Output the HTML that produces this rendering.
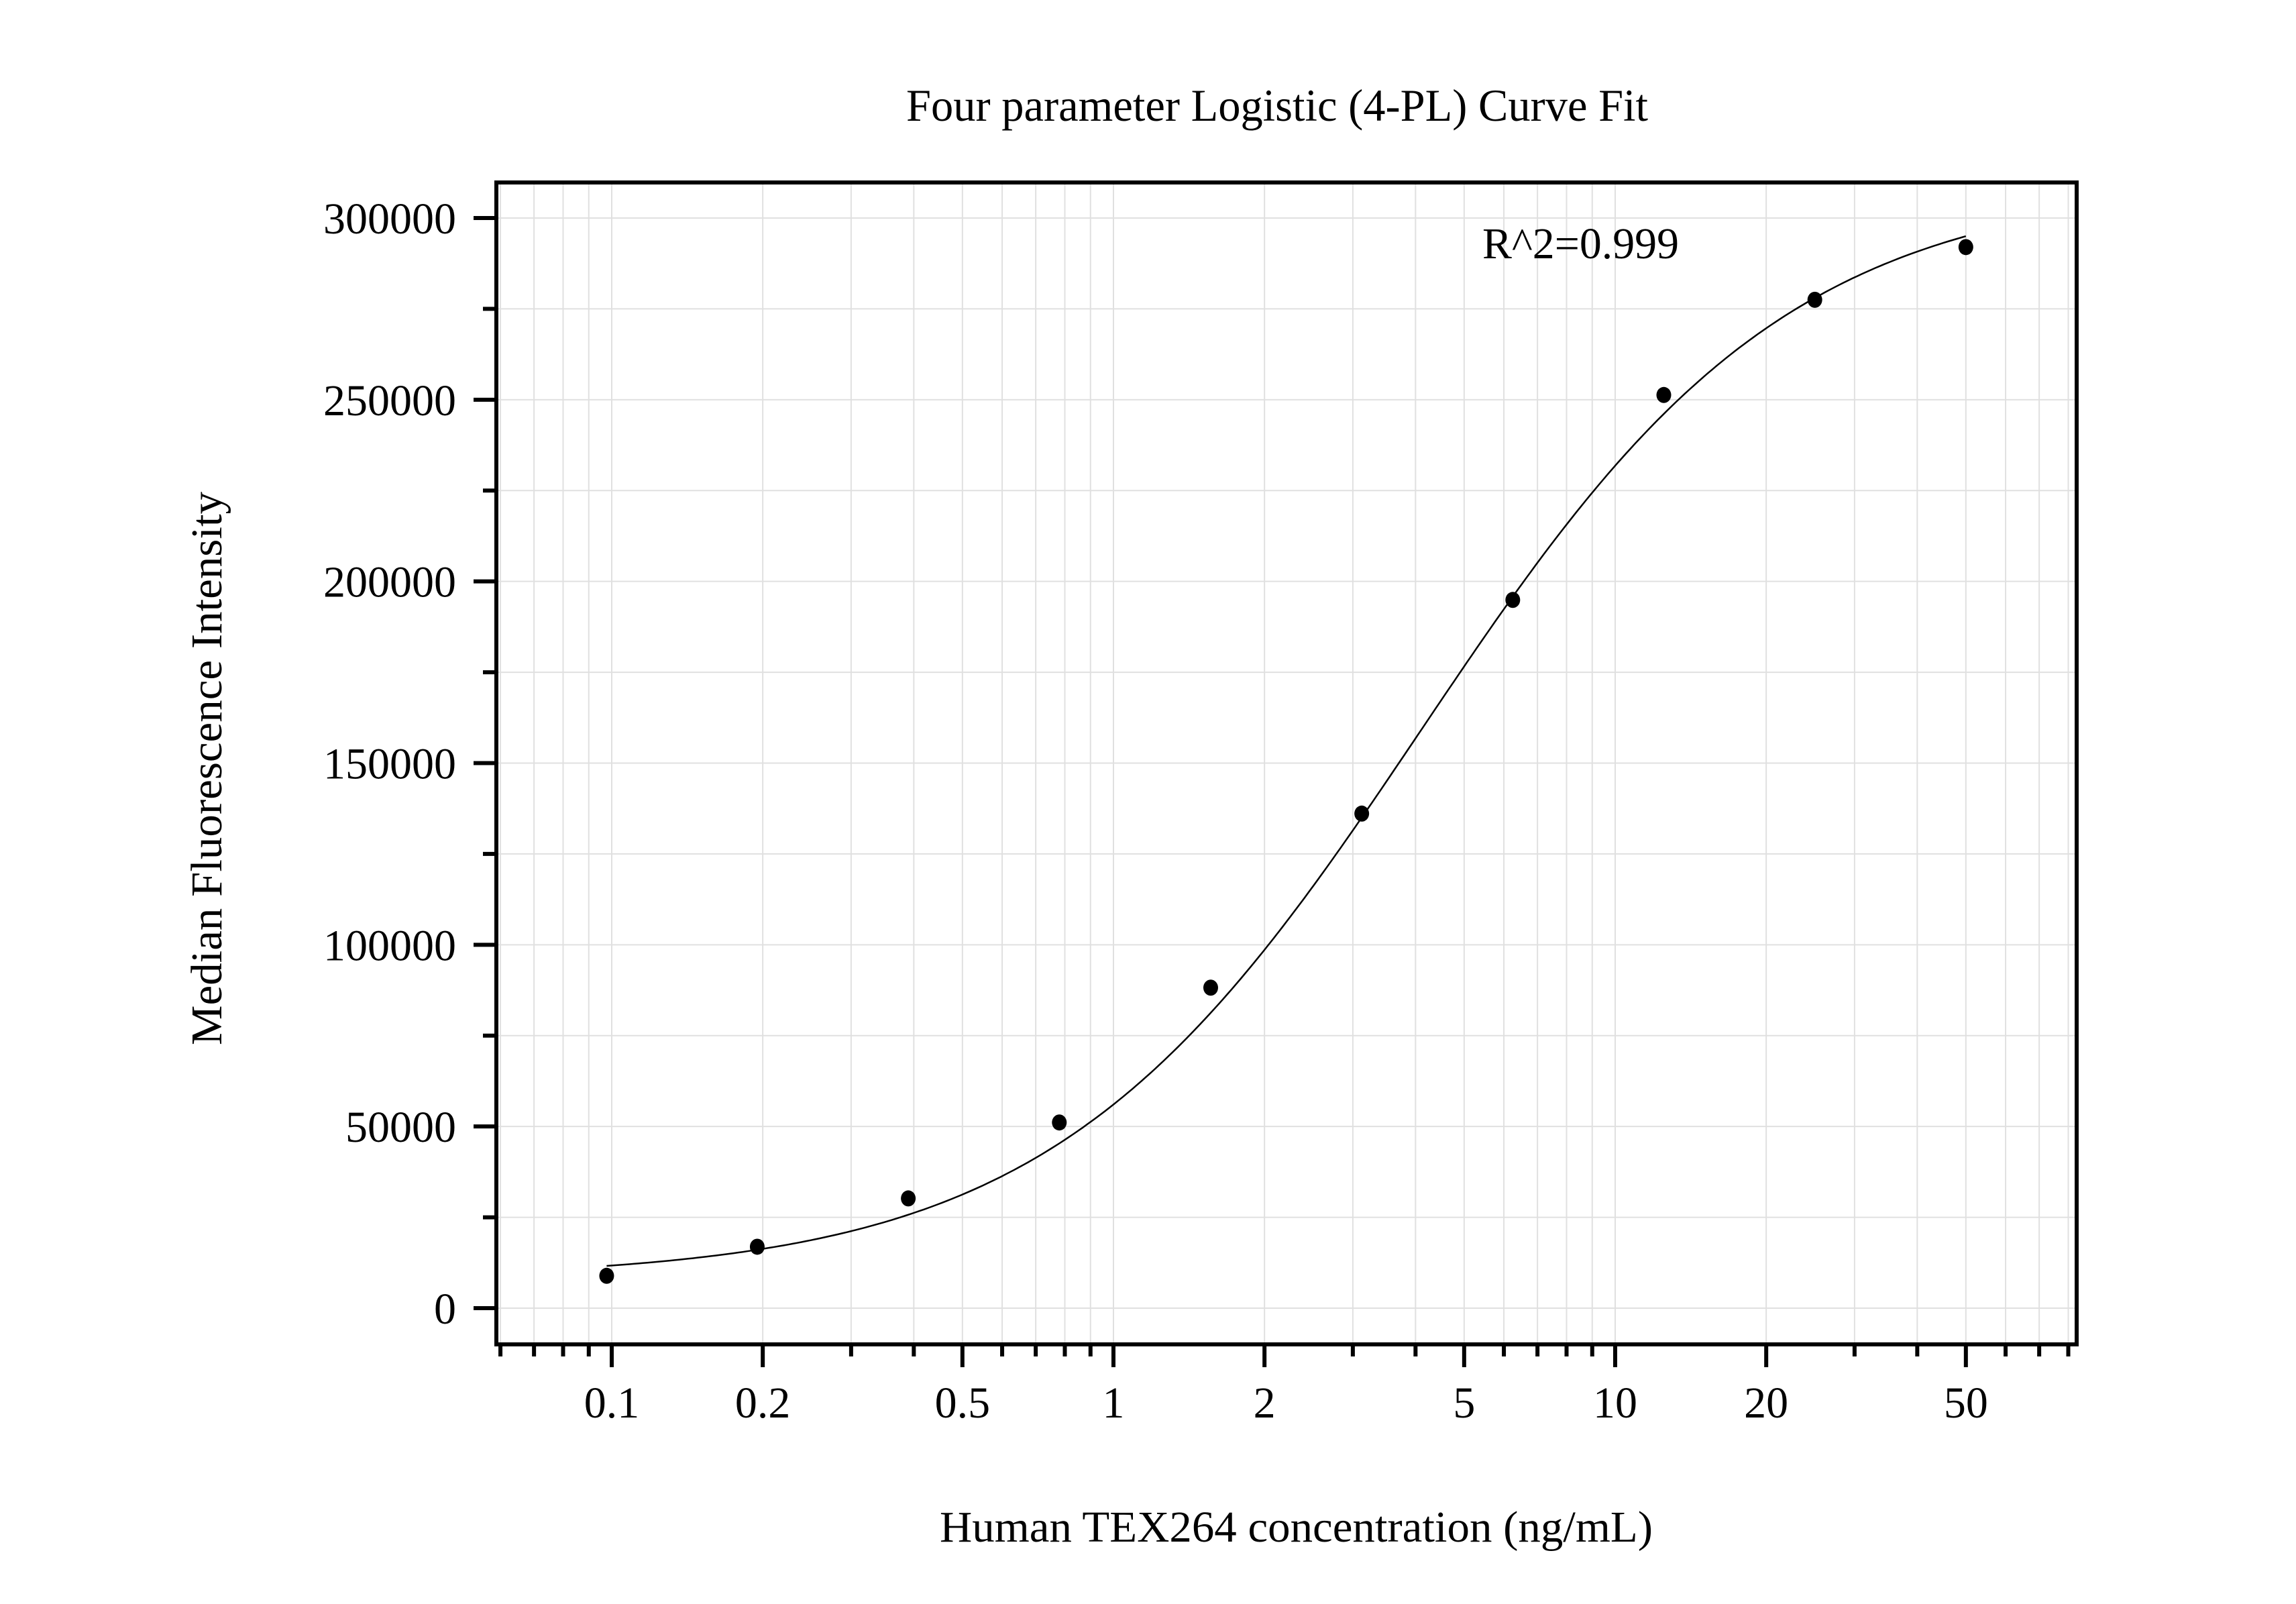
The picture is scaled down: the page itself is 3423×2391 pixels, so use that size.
<!DOCTYPE html>
<html><head><meta charset="utf-8"><style>
html,body{margin:0;padding:0;background:#fff;}
svg{display:block;font-family:"Liberation Serif",serif;}
</style></head><body>
<svg id="chart" width="3423" height="2391" viewBox="0 0 3423 2391" xmlns="http://www.w3.org/2000/svg">
<rect width="3423" height="2391" fill="#fff"/>
<g id="grid"></g>
<g id="curve"></g>
<g id="points"></g>
<g id="axes"></g>
<text x="1351" y="180" font-size="68" textLength="1106" lengthAdjust="spacingAndGlyphs">Four parameter Logistic (4-PL) Curve Fit</text>
<text x="2210" y="385" font-size="66" textLength="293" lengthAdjust="spacingAndGlyphs">R^2=0.999</text>
<text x="1401" y="2298" font-size="66" textLength="1063" lengthAdjust="spacingAndGlyphs">Human TEX264 concentration (ng/mL)</text>
<text transform="translate(330,1558) rotate(-90)" x="0" y="0" font-size="66" textLength="825" lengthAdjust="spacingAndGlyphs">Median Fluorescence Intensity</text>
</svg>
<script>
const xValues = [0.0977, 0.195, 0.39, 0.78, 1.5625, 3.125, 6.25, 12.5, 25, 50];
const yValues = [8900, 16900, 30200, 51100, 88200, 136100, 194900, 251300, 277500, 292000];
const fitParams = [8000, 310000, 4.1, 1.18]; // bottom, top, EC50, hill
const xTickValues = [0.1, 0.2, 0.5, 1, 2, 5, 10, 20, 50];
const xTickLabels = ["0.1", "0.2", "0.5", "1", "2", "5", "10", "20", "50"];
const yTickValues = [0, 50000, 100000, 150000, 200000, 250000, 300000];
const yTickLabels = ["0", "50000", "100000", "150000", "200000", "250000", "300000"];

const NS = "http://www.w3.org/2000/svg";
const L = 740, R = 3096, T = 272, B = 2004;
const X1 = 1660, DEC = 748, Y0 = 1950, YPER = 1625 / 300000;
const xs = v => X1 + DEC * Math.log10(v);
const ys = v => Y0 - v * YPER;
function mk(tag, attrs, parent) {
  const e = document.createElementNS(NS, tag);
  for (const k in attrs) e.setAttribute(k, attrs[k]);
  parent.appendChild(e);
  return e;
}
const grid = document.getElementById('grid');
const axes = document.getElementById('axes');
// minor x positions
const xMinor = [];
for (let d = -2; d <= 1; d++) for (let m = 1; m <= 9; m++) {
  const v = m * Math.pow(10, d);
  const px = xs(v);
  if (px > L + 2 && px < R - 2) xMinor.push(v);
}
xMinor.forEach(v => {
  const l = mk('line', {x1: xs(v), x2: xs(v), y1: T, y2: B, stroke: '#e0e0e0', 'stroke-width': 2}, grid);
  
  
});
for (let v = 0; v <= 325000; v += 25000) {
  const py = ys(v);
  if (py < T + 2) continue;
  const l = mk('line', {x1: L, x2: R, y1: py, y2: py, stroke: '#e0e0e0', 'stroke-width': 2}, grid);
  
  
  const major = v % 50000 === 0;
  const t = mk('line', {x1: L - (major ? 34 : 20), x2: L, y1: py, y2: py, stroke: '#000', 'stroke-width': 6}, axes);
  
  
}
// fit curve
const cg = document.getElementById('curve');
let d = '';
const [A, D, C, Bh] = fitParams;
for (let i = 0; i <= 300; i++) {
  const lv = Math.log10(xValues[0]) + (Math.log10(xValues[xValues.length - 1]) - Math.log10(xValues[0])) * i / 300;
  const v = Math.pow(10, lv);
  const y = D + (A - D) / (1 + Math.pow(v / C, Bh));
  d += (i ? 'L' : 'M') + xs(v).toFixed(1) + ',' + ys(y).toFixed(1);
}
const path = mk('path', {d: d, fill: 'none', stroke: '#000', 'stroke-width': 2.5}, cg);


// points
const pg = document.getElementById('points');
xValues.forEach((v, i) => {
  const c = mk('ellipse', {cx: xs(v), cy: ys(yValues[i]), rx: 11, ry: 12, fill: '#000'}, pg);
  
  
});
// axes frame
const fr = mk('rect', {x: L, y: T, width: R - L, height: B - T, fill: 'none', stroke: '#000', 'stroke-width': 6}, axes);


// x ticks
xMinor.forEach(v => {
  const major = xTickValues.some(t => Math.abs(t - v) < 1e-9);
  const t = mk('line', {x1: xs(v), x2: xs(v), y1: B, y2: B + (major ? 34 : 18), stroke: '#000', 'stroke-width': 6}, axes);
  
  
});
xTickValues.forEach((v, i) => {
  const t = mk('text', {x: xs(v), y: 2113, 'font-size': 66, 'text-anchor': 'middle'}, axes);
  t.textContent = xTickLabels[i];
  
  
});
yTickValues.forEach((v, i) => {
  const t = mk('text', {x: 680, y: ys(v) + 23, 'font-size': 66, 'text-anchor': 'end'}, axes);
  t.textContent = yTickLabels[i];
  
  
});
</script>
</body></html>
